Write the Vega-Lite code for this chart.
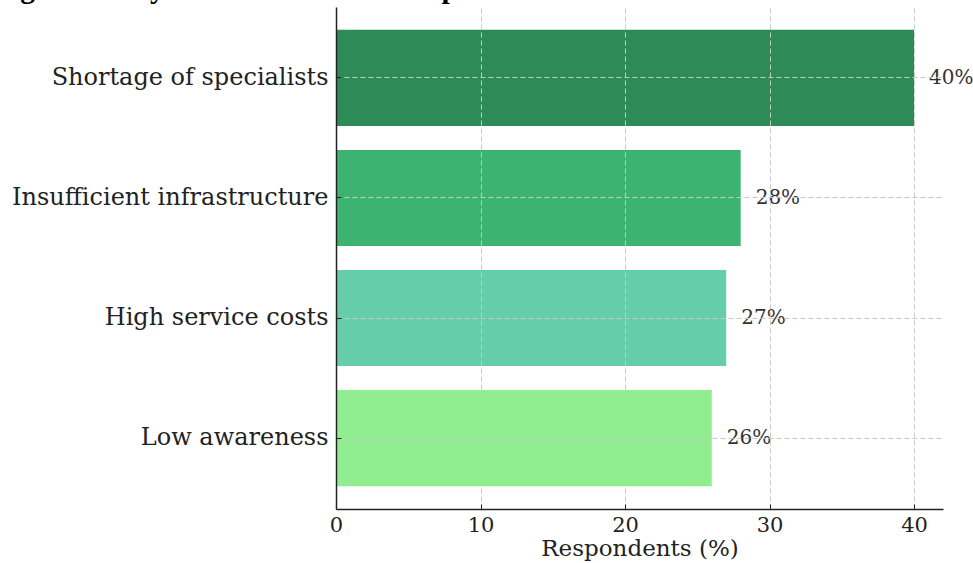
{
  "$schema": "https://vega.github.io/schema/vega-lite/v6.json",
  "autosize": {"type": "none"},
  "width": 607,
  "height": 502,
  "padding": {"left": 336, "top": 7, "right": 30, "bottom": 54},
  "background": "white",
  "view": {"stroke": null},
  "title": {
    "text": "Figure 1. Key barriers to the development of innovative services in Kazakhstan",
    "font": "Liberation Serif",
    "fontWeight": "bold",
    "fontSize": 29.5,
    "color": "black",
    "anchor": "start",
    "frame": "group",
    "dx": -342,
    "dy": 28,
    "offset": 2,
    "baseline": "bottom"
  },
  "data": {
    "values": [
      {"barrier": "Shortage of specialists", "pct": 40, "label": "40%"},
      {"barrier": "Insufficient infrastructure", "pct": 28, "label": "28%"},
      {"barrier": "High service costs", "pct": 27, "label": "27%"},
      {"barrier": "Low awareness", "pct": 26, "label": "26%"}
    ]
  },
  "encoding": {
    "y": {
      "field": "barrier",
      "type": "nominal",
      "sort": null,
      "scale": {"paddingInner": 0.2, "paddingOuter": 0.19},
      "axis": {
        "title": null,
        "labelFont": "DejaVu Serif",
        "labelFontSize": 24,
        "labelColor": "#222222",
        "labelLimit": 400,
        "labelPadding": 13,
        "tickSize": -5,
        "tickColor": "#222222",
        "domainColor": "#222222",
        "domainWidth": 1.5,
        "grid": true,
        "bandPosition": 0.5,
        "gridDash": [5, 3],
        "gridColor": "#c8c8c8",
        "gridWidth": 1,
        "zindex": 1
      }
    },
    "x": {
      "field": "pct",
      "type": "quantitative",
      "scale": {"domain": [0, 42], "nice": false},
      "axis": {
        "title": "Respondents (%)",
        "titleFont": "DejaVu Serif",
        "titleFontSize": 23,
        "titleFontWeight": "normal",
        "titleColor": "#222222",
        "titlePadding": 2,
        "values": [0, 10, 20, 30, 40],
        "labelFlush": false,
        "labelFont": "DejaVu Serif",
        "labelFontSize": 21,
        "labelColor": "#222222",
        "labelPadding": 10,
        "tickSize": -5,
        "tickColor": "#222222",
        "domainColor": "#222222",
        "domainWidth": 1.5,
        "grid": true,
        "gridDash": [5, 3],
        "gridColor": "#c8c8c8",
        "gridWidth": 1,
        "zindex": 1
      }
    }
  },
  "layer": [
    {
      "mark": {"type": "bar"},
      "encoding": {
        "color": {
          "field": "barrier",
          "type": "nominal",
          "sort": null,
          "scale": {
            "domain": ["Shortage of specialists", "Insufficient infrastructure", "High service costs", "Low awareness"],
            "range": ["#2e8b57", "#3cb371", "#66cdaa", "#90ee90"]
          },
          "legend": null
        }
      }
    },
    {
      "mark": {
        "type": "text",
        "align": "left",
        "baseline": "middle",
        "dx": 15,
        "font": "DejaVu Serif",
        "fontSize": 20,
        "color": "#333333"
      },
      "encoding": {"text": {"field": "label"}}
    }
  ]
}
